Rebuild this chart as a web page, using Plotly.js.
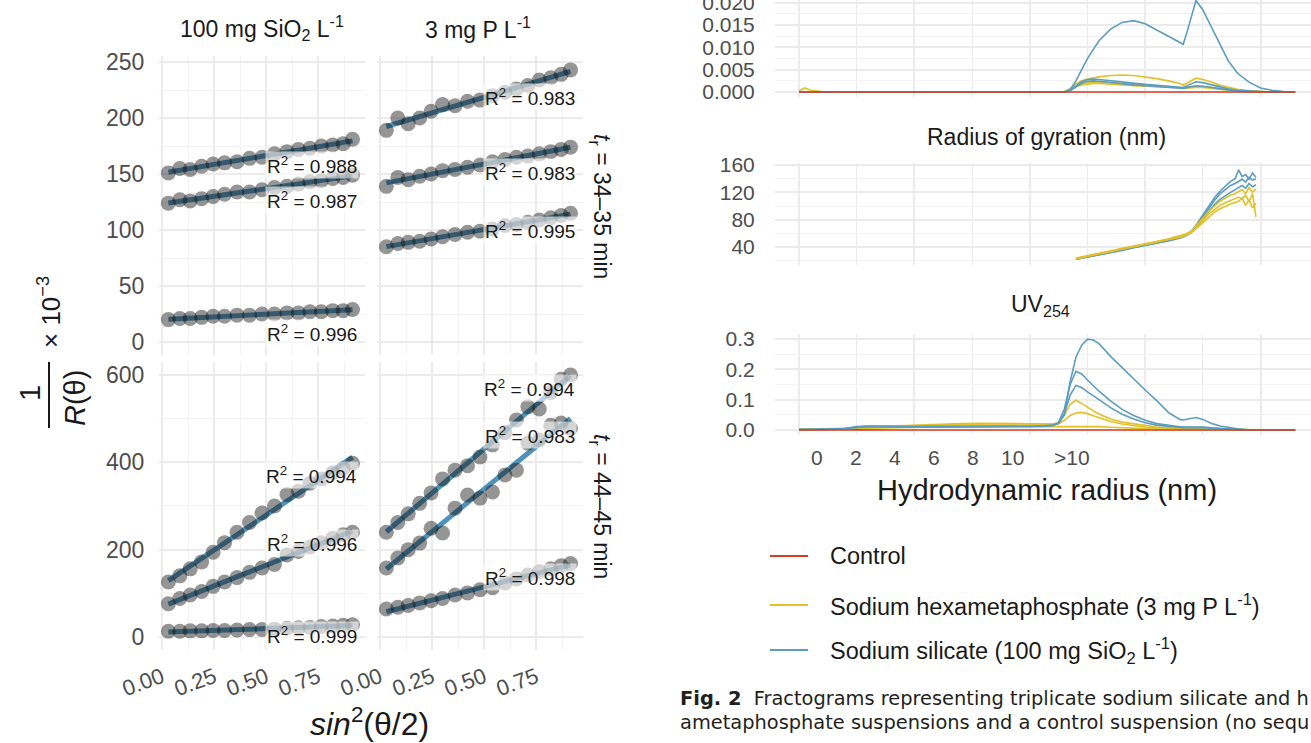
<!DOCTYPE html>
<html>
<head>
<meta charset="utf-8">
<script src="https://cdn.plot.ly/plotly-3.0.1.min.js"></script>
<style>html,body{margin:0;padding:0;background:#fff}#chart{width:1311px;height:743px}</style>
</head>
<body>
<div id="chart"></div>
<script>
// ---------------- DATA : left (Zimm-type plots) ----------------
const sinSq = [0.03,0.085,0.135,0.19,0.245,0.30,0.36,0.42,0.48,0.54,0.60,0.655,0.71,0.765,0.82,0.87,0.915];

const si34_a = [151,155,154,157,159,160,161,164,165,168,170,172,173,175,176,177,181];
const si34_b = [124,127,126,128,130,132,134,134,136,138,139,141,143,144,146,147,149];
const si34_c = [20,21,21,22,23,23,24,24,25,25,26,26,27,27,28,28,29];

const p34_a = [189,200,195,200,206,212,211,215,216,220,223,226,229,234,236,239,243];
const p34_b = [139,147,145,148,150,153,154,156,158,161,163,165,166,168,170,172,174];
const p34_c = [85,88,89,90,92,94,96,98,99,101,104,105,107,109,111,113,115];

const si44_a = [126,140,156,172,194,216,240,262,284,300,326,334,352,362,376,386,398];
const si44_b = [76,88,96,104,116,126,136,148,158,166,188,196,206,216,226,234,240];
const si44_c = [13,13,14,14,15,15,16,17,17,18,20,21,22,24,25,27,28];

const p44_a = [240,262,282,306,330,362,382,392,412,440,468,497,527,522,560,590,600];
const p44_b = [158,181,200,215,249,238,295,325,318,332,371,382,444,451,485,490,478];
const p44_c = [64,68,72,78,83,88,96,101,108,113,124,133,142,150,156,163,168];

const r2_si34 = ['0.988','0.987','0.996'];
const r2_p34  = ['0.983','0.983','0.995'];
const r2_si44 = ['0.994','0.996','0.999'];
const r2_p44  = ['0.994','0.983','0.998'];

const facetCols = ['100 mg SiO<sub>2</sub> L<sup>-1</sup>', '3 mg P L<sup>-1</sup>'];
const facetRows = ['<i>t</i><sub>r</sub> = 34–35 min', '<i>t</i><sub>r</sub> = 44–45 min'];

// ---------------- DATA : right (fractograms) ----------------
const tMin = [10,10.5,11,12,13,14,15,16,17,18,20,22,24,26,28,30,31,32,32.5,33,33.5,34,34.5,35,35.5,36,37,38,39,40,41,42,43,43.3,43.8,44.4,45,45.8,46.5,47.2,48,49,50,51,52,53];

const ls_ctrl = [0,0,0,0,0,0,0,0,0,0, 0,0,0,0,0,0,0,0,0,0, 0,0,0,0,0,0,0,0,0,0, 0,0,0,0,0,0,0,0,0,0, 0,0,0,0,0,0];
const ls_si1 = [0,0,0,0,0,0,0,0,0,0, 0,0,0,0,0,0,0,0,0,0, 0.0005,0.0025,0.005,0.0075,0.0095,0.0115,0.0141,0.0156,0.016,0.0153, 0.0139,0.0125,0.0111,0.0107,0.015,0.0205,0.0184,0.0143,0.0104,0.007, 0.0042,0.0022,0.0009,0.0004,0.0001,0];
const ls_si2 = [0,0,0,0,0,0,0,0,0,0, 0,0,0,0,0,0,0,0,0,0, 0.0004,0.0014,0.0023,0.0028,0.0029,0.0028,0.0025,0.0022,0.0019,0.0017, 0.0015,0.0013,0.0011,0.001,0.0016,0.0023,0.0021,0.0016,0.0011,0.0007, 0.0004,0.0002,0.0001,0,0,0];
const ls_si3 = [0,0,0,0,0,0,0,0,0,0, 0,0,0,0,0,0,0,0,0,0, 0.0003,0.0012,0.002,0.0024,0.0025,0.0024,0.0021,0.0018,0.0016,0.0014, 0.0012,0.0011,0.0009,0.0008,0.0011,0.0014,0.0013,0.001,0.0007,0.0004, 0.0002,0.0001,0,0,0,0];
const ls_p1 = [0.0003,0.0009,0.0004,0.0001,0,0,0,0,0,0, 0,0,0,-0.0001,-0.0001,-0.0001,-0.0001,-0.0001,0,0.0001, 0.0008,0.0018,0.0025,0.0029,0.0032,0.0034,0.0037,0.0038,0.0037,0.0034, 0.003,0.0025,0.0019,0.0015,0.0022,0.0031,0.0028,0.0022,0.0015,0.001, 0.0006,0.0003,0.0001,0,0,0];
const ls_p2 = [0,0,0,0,0,0,0,0,0,0, 0,0,0,0,0,0,0,0,0,0, 0.0006,0.0014,0.0019,0.0021,0.0022,0.0022,0.0021,0.0019,0.0017,0.0015, 0.0013,0.0011,0.001,0.0009,0.0011,0.0013,0.0012,0.001,0.0007,0.0005, 0.0003,0.0001,0,0,0,0];
const ls_p3 = [0,0,0,0,0,0,0,0,0,0, 0,0,0,0,0,0,0,0,0,0, 0.0005,0.0012,0.0016,0.0018,0.0019,0.0019,0.0018,0.0016,0.0014,0.0013, 0.0011,0.001,0.0009,0.0008,0.0009,0.001,0.001,0.0008,0.0006,0.0004, 0.0002,0.0001,0,0,0,0];

const tRg = [34,35,36,37,38,39,40,41,42,43,43.5,44,44.5,45,45.5,46,46.5,47,47.4,47.8,48.1,48.4,48.7,49,49.3,49.6];
const rg_si1 = [22,25,29,32,36,39,43,46,50,54,57,62,72,84,96,108,118,125,130,133,136,139,135,142,138,140];
const rg_si2 = [23,26,30,33,37,40,44,47,51,55,58,63,74,87,100,112,122,130,136,140,153,143,146,139,148,142];
const rg_si3 = [22,25,28,32,35,39,42,46,49,53,56,61,70,81,92,102,110,116,120,124,127,130,126,133,128,131];
const rg_p1 = [24,27,31,34,38,41,45,48,52,56,59,63,72,82,92,100,107,112,116,118,121,124,118,127,120,125];
const rg_p2 = [23,27,30,34,37,41,44,48,51,55,58,62,70,79,88,95,101,105,108,111,113,110,116,106,118,84];
const rg_p3 = [23,26,30,33,37,40,44,47,51,54,57,61,68,76,84,91,96,100,103,105,107,112,101,109,97,104];

const uv_ctrl = [0,0.001,0,0.001,0,0,0.001,0,0,0, 0,0.001,0,0,0.001,0,0,0,0,0, 0,0,0.001,0,0,0,0,0,0,0, 0,0,0,0,0,0,0,0,0,0, 0,0,0,0,0,0];
const uv_si1 = [0.002,0.002,0.002,0.002,0.003,0.005,0.011,0.013,0.012,0.011, 0.011,0.011,0.012,0.012,0.012,0.012,0.013,0.015,0.022,0.05, 0.16,0.24,0.28,0.3,0.297,0.285,0.243,0.205,0.17,0.132, 0.097,0.058,0.035,0.033,0.037,0.041,0.035,0.021,0.013,0.008, 0.004,0.001,0,0,0,0];
const uv_si2 = [0.001,0.001,0.002,0.002,0.003,0.005,0.01,0.012,0.011,0.011, 0.011,0.011,0.011,0.011,0.012,0.012,0.013,0.016,0.025,0.07, 0.15,0.194,0.185,0.165,0.145,0.128,0.096,0.068,0.048,0.032, 0.021,0.015,0.011,0.01,0.01,0.011,0.01,0.007,0.005,0.003, 0.001,0,0,0,0,0];
const uv_si3 = [0.001,0.001,0.001,0.002,0.003,0.005,0.009,0.011,0.011,0.01, 0.01,0.01,0.01,0.011,0.011,0.011,0.012,0.015,0.022,0.055, 0.115,0.147,0.14,0.126,0.112,0.1,0.074,0.052,0.036,0.024, 0.016,0.012,0.009,0.008,0.008,0.009,0.008,0.006,0.004,0.002, 0.001,0,0,0,0,0];
const uv_p1 = [0.003,0.003,0.004,0.004,0.005,0.006,0.007,0.009,0.011,0.013, 0.016,0.019,0.021,0.022,0.022,0.021,0.02,0.02,0.025,0.05, 0.085,0.098,0.088,0.075,0.063,0.053,0.036,0.026,0.02,0.014, 0.01,0.008,0.006,0.006,0.005,0.005,0.005,0.004,0.003,0.002, 0.001,0,0,0,0,0];
const uv_p2 = [0.002,0.002,0.003,0.003,0.004,0.005,0.006,0.008,0.01,0.012, 0.014,0.017,0.019,0.02,0.02,0.019,0.019,0.019,0.021,0.032, 0.048,0.056,0.058,0.054,0.047,0.041,0.028,0.02,0.014,0.01, 0.007,0.005,0.004,0.004,0.004,0.004,0.003,0.003,0.002,0.001, 0,0,0,0,0,0];
const uv_p3 = [0.001,0.001,0.002,0.002,0.003,0.004,0.005,0.006,0.007,0.008, 0.009,0.01,0.011,0.011,0.011,0.011,0.011,0.011,0.011,0.011, 0.011,0.012,0.012,0.012,0.011,0.011,0.009,0.007,0.005,0.004, 0.003,0.002,0.002,0.002,0.002,0.002,0.001,0.001,0.001,0, 0,0,0,0,0,0];

const rhLabels = ['0','2','4','6','8','10','>10'];
const legendNames = ['Control', 'Sodium hexametaphosphate (3 mg P L<sup>-1</sup>)', 'Sodium silicate (100 mg SiO<sub>2</sub> L<sup>-1</sup>)'];

// ---------------- STYLE / LAYOUT ----------------
const W = 1311, H = 743;
const PX = x => x / W, PY = y => 1 - y / H;
const FONT = 'Liberation Sans';
const TXT = '#1a1a1a', TICK = '#4d4d4d', GRID = '#ebebeb', GRIDMIN = '#f3f3f3';
const C_CTRL = '#dc3b22', C_P = '#e2c027', C_SI = '#5b9cbf', C_FIT = '#4f93b8';

function linfit(x, y) {
  const n = x.length;
  const mx = x.reduce((a, b) => a + b, 0) / n, my = y.reduce((a, b) => a + b, 0) / n;
  let sxy = 0, sxx = 0;
  for (let i = 0; i < n; i++) { sxy += (x[i] - mx) * (y[i] - my); sxx += (x[i] - mx) ** 2; }
  const b = sxy / sxx; return { a: my - b * mx, b: b };
}

const panels = [
  { xa: 'x',  ya: 'y',  series: [si34_a, si34_b, si34_c] },
  { xa: 'x2', ya: 'y2', series: [p34_a, p34_b, p34_c] },
  { xa: 'x3', ya: 'y3', series: [si44_a, si44_b, si44_c] },
  { xa: 'x4', ya: 'y4', series: [p44_a, p44_b, p44_c] }
];

const traces = [];
panels.forEach(p => {
  p.series.forEach(s => {
    const f = linfit(sinSq, s);
    const x0 = Math.min(...sinSq), x1 = Math.max(...sinSq);
    traces.push({ type: 'scatter', mode: 'lines', xaxis: p.xa, yaxis: p.ya, x: [x0, x1], y: [f.a + f.b * x0, f.a + f.b * x1],
      line: { color: C_FIT, width: 5 }, hoverinfo: 'skip' });
  });
  p.series.forEach(s => {
    traces.push({ type: 'scatter', mode: 'markers', xaxis: p.xa, yaxis: p.ya, x: sinSq, y: s,
      marker: { size: 15, color: 'rgba(20,20,20,0.45)', line: { width: 0 } }, cliponaxis: false });
  });
});

function fr(xa, ya, x, y, color) {
  return { type: 'scatter', mode: 'lines', xaxis: xa, yaxis: ya, x: x, y: y, line: { color: color, width: 1.6 } };
}
[ls_p1, ls_p2, ls_p3].forEach(s => traces.push(fr('x5', 'y5', tMin, s, C_P)));
[ls_si1, ls_si2, ls_si3].forEach(s => traces.push(fr('x5', 'y5', tMin, s, C_SI)));
traces.push(fr('x5', 'y5', tMin, ls_ctrl, C_CTRL));
[rg_si1, rg_si2, rg_si3].forEach(s => traces.push(fr('x6', 'y6', tRg, s, C_SI)));
[rg_p1, rg_p2, rg_p3].forEach(s => traces.push(fr('x6', 'y6', tRg, s, C_P)));
[uv_p1, uv_p2, uv_p3].forEach(s => traces.push(fr('x7', 'y7', tMin, s, C_P)));
[uv_si1, uv_si2, uv_si3].forEach(s => traces.push(fr('x7', 'y7', tMin, s, C_SI)));
traces.push(fr('x7', 'y7', tMin, uv_ctrl, C_CTRL));

function ax(o) {
  return Object.assign({
    showline: false, zeroline: false, showgrid: true, gridcolor: GRID, gridwidth: 1.6,
    ticks: 'outside', tickcolor: 'rgba(0,0,0,0)', ticklen: 9,
    tickfont: { family: FONT, size: 23, color: TICK }, fixedrange: true
  }, o);
}

const xLeft = { range: [-0.015, 0.975], dtick: 0.25, tick0: 0, tickformat: '.2f',
  minor: { dtick: 0.125, showgrid: true, gridcolor: GRIDMIN, gridwidth: 1.1 } };
const yTop = { range: [-11.6, 255.4], dtick: 50, tick0: 0, domain: [PY(355), PY(56)],
  minor: { dtick: 25, showgrid: true, gridcolor: GRIDMIN, gridwidth: 1.1 } };
const yBot = { range: [-29.8, 629.7], dtick: 200, tick0: 0, domain: [PY(650), PY(362)],
  minor: { dtick: 100, showgrid: true, gridcolor: GRIDMIN, gridwidth: 1.1 } };
const xRight = { range: [7.92, 54.37], dtick: 10, tick0: 0, domain: [PX(775), 1], showticklabels: false,
  minor: { dtick: 5, showgrid: true, gridcolor: GRID, gridwidth: 1.3 } };

const layout = {
  width: W, height: H, margin: { l: 0, r: 0, t: 0, b: 0 }, showlegend: false,
  paper_bgcolor: '#fff', plot_bgcolor: 'rgba(0,0,0,0)', font: { family: FONT, color: TXT },
  xaxis:  ax(Object.assign({}, xLeft, { domain: [PX(159), PX(365)], anchor: 'y',  showticklabels: false })),
  xaxis2: ax(Object.assign({}, xLeft, { domain: [PX(377), PX(583)], anchor: 'y2', showticklabels: false })),
  xaxis3: ax(Object.assign({}, xLeft, { domain: [PX(159), PX(365)], anchor: 'y3', tickangle: -20, ticklen: 5, tickfont: { family: FONT, size: 22, color: TICK } })),
  xaxis4: ax(Object.assign({}, xLeft, { domain: [PX(377), PX(583)], anchor: 'y4', tickangle: -20, ticklen: 5, tickfont: { family: FONT, size: 22, color: TICK } })),
  yaxis:  ax(Object.assign({}, yTop, { anchor: 'x' })),
  yaxis2: ax(Object.assign({}, yTop, { anchor: 'x2', showticklabels: false })),
  yaxis3: ax(Object.assign({}, yBot, { anchor: 'x3' })),
  yaxis4: ax(Object.assign({}, yBot, { anchor: 'x4', showticklabels: false })),
  xaxis5: ax(Object.assign({}, xRight, { anchor: 'y5' })),
  xaxis6: ax(Object.assign({}, xRight, { anchor: 'y6' })),
  xaxis7: ax(Object.assign({}, xRight, { anchor: 'y7' })),
  yaxis5: ax({ anchor: 'x5', domain: [PY(97), 1], range: [-0.00112, 0.02063], dtick: 0.005, tick0: 0, tickformat: '.3f', ticklen: 15,
    ticklabeloverflow: 'allow', tickfont: { family: FONT, size: 21, color: TICK }, minor: { dtick: 0.0025, showgrid: true, gridcolor: GRIDMIN, gridwidth: 1.1 } }),
  yaxis6: ax({ anchor: 'x6', domain: [PY(265), PY(163)], range: [13.7, 162.9], dtick: 40, tick0: 0, ticklen: 15,
    tickfont: { family: FONT, size: 21, color: TICK }, minor: { dtick: 20, showgrid: true, gridcolor: GRIDMIN, gridwidth: 1.1 } }),
  yaxis7: ax({ anchor: 'x7', domain: [PY(435), PY(334)], range: [-0.0165, 0.3168], dtick: 0.1, tick0: 0, tickformat: '.1f', ticklen: 15,
    tickfont: { family: FONT, size: 21, color: TICK }, minor: { dtick: 0.05, showgrid: true, gridcolor: GRIDMIN, gridwidth: 1.1 } }),
  annotations: [], shapes: []
};

const A = layout.annotations, S = layout.shapes;
function txt(text, x, y, size, extra) {
  A.push(Object.assign({ text: text, xref: 'paper', yref: 'paper', x: PX(x), y: PY(y), showarrow: false,
    xanchor: 'center', yanchor: 'middle', font: { family: FONT, size: size, color: TXT } }, extra || {}));
}

// facet strips
txt(facetCols[0], 262, 28, 23);
txt(facetCols[1], 478, 28, 23);
txt(facetRows[0], 601, 206, 23, { textangle: 90 });
txt(facetRows[1], 601, 506, 23, { textangle: 90 });

// R² labels (data coordinates)
function r2(xa, ya, vals, ys) {
  vals.forEach((v, i) => A.push({ text: 'R<sup>2</sup> = ' + v, xref: xa, yref: ya, x: 0.72, y: ys[i], showarrow: false,
    xanchor: 'center', yanchor: 'middle', bgcolor: 'rgba(255,255,255,0.6)', borderpad: 1,
    font: { family: FONT, size: 19, color: TXT } }));
}
r2('x', 'y', r2_si34, [158, 127, 8]);
r2('x2', 'y2', r2_p34, [219, 152, 100]);
r2('x3', 'y3', r2_si44, [371, 215, 5]);
r2('x4', 'y4', r2_p44, [570, 462, 137]);

// y-axis title: 1 / R(θ) × 10^-3
txt('1', 30, 393, 29, { textangle: -90 });
S.push({ type: 'line', xref: 'paper', yref: 'paper', x0: PX(49), x1: PX(49), y0: PY(362), y1: PY(428), line: { color: TXT, width: 2 } });
txt('<i>R</i>(θ)', 75, 398, 29, { textangle: -90 });
txt('× 10<sup>−3</sup>', 50, 312, 26, { textangle: -90 });
// x-axis title
txt('<i>sin</i><sup>2</sup>(θ/2)', 369, 722, 32);

// right panel titles
txt('Radius of gyration (nm)', 1046, 137, 23);
txt('UV<sub>254</sub>', 1040, 305, 23);
const rhX = [817, 856, 895, 934, 973, 1013, 1072];
rhLabels.forEach((l, i) => txt(l, rhX[i], 457, 21, { font: { family: FONT, size: 21, color: TICK } }));
txt('Hydrodynamic radius (nm)', 1047, 490, 29);

// legend
const legC = [C_CTRL, C_P, C_SI], legY = [556, 605, 650];
legendNames.forEach((n, i) => {
  S.push({ type: 'line', xref: 'paper', yref: 'paper', x0: PX(770), x1: PX(808), y0: PY(legY[i]), y1: PY(legY[i]), line: { color: legC[i], width: 2.2 } });
  txt(n, 828, legY[i], 23.5, { xanchor: 'left' });
});

// caption
const CAP = 'DejaVu Sans';
txt('<b>Fig. 2</b>  Fractograms representing triplicate sodium silicate and h', 678, 698, 19.4, { xanchor: 'left', font: { family: CAP, size: 19.4, color: '#231f20' } });
txt('ametaphosphate suspensions and a control suspension (no sequ', 678, 722, 19.4, { xanchor: 'left', font: { family: CAP, size: 19.4, color: '#231f20' } });

Plotly.newPlot('chart', traces, layout, { displayModeBar: false });
</script>
</body>
</html>
